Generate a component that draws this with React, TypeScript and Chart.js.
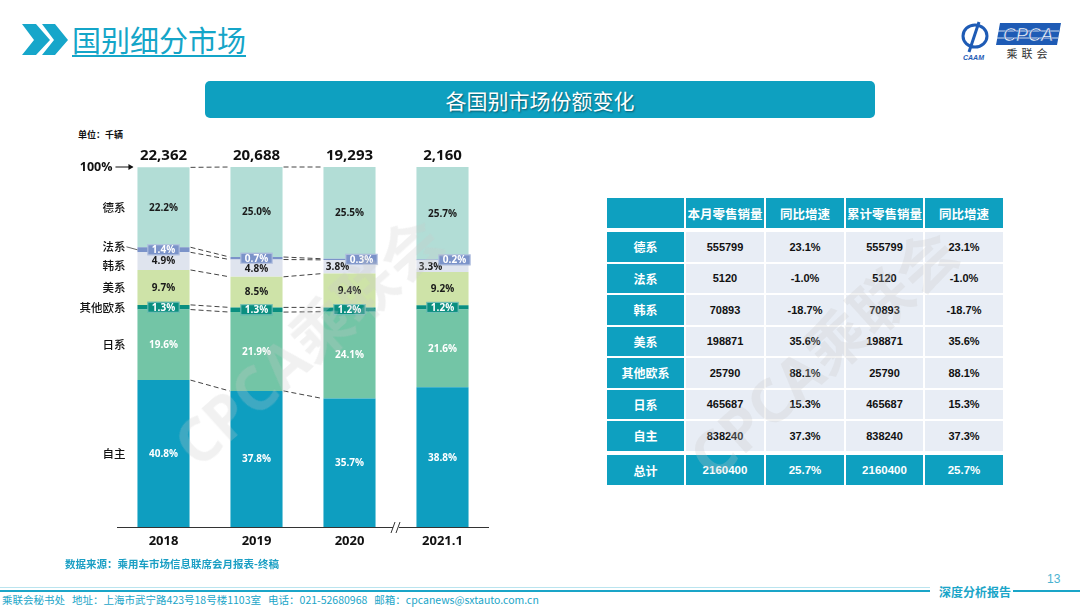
import React, { useEffect, useRef } from 'react';
import { Chart, registerables } from 'chart.js';

Chart.register(...registerables);

// ---------- chart data ----------
const categories = ['2018', '2019', '2020', '2021.1'];
const totals = ['22,362', '20,688', '19,293', '2,160'];
const seriesNames = ['自主', '日系', '其他欧系', '美系', '韩系', '法系', '德系'];
const ziZhu = [40.8, 37.8, 35.7, 38.8];
const riXi = [19.6, 21.9, 24.1, 21.6];
const qiTaOuXi = [1.3, 1.3, 1.2, 1.2];
const meiXi = [9.7, 8.5, 9.4, 9.2];
const hanXi = [4.9, 4.8, 3.8, 3.3];
const faXi = [1.4, 0.7, 0.3, 0.2];
const deXi = [22.2, 25.0, 25.5, 25.7];
const seriesValues = [ziZhu, riXi, qiTaOuXi, meiXi, hanXi, faXi, deXi];

// ---------- table data ----------
const tableHeaders = ['', '本月零售销量', '同比增速', '累计零售销量', '同比增速'];
const tableRowNames = ['德系', '法系', '韩系', '美系', '其他欧系', '日系', '自主'];
const monthSales = ['555799', '5120', '70893', '198871', '25790', '465687', '838240'];
const monthYoY = ['23.1%', '-1.0%', '-18.7%', '35.6%', '88.1%', '15.3%', '37.3%'];
const cumSales = ['555799', '5120', '70893', '198871', '25790', '465687', '838240'];
const cumYoY = ['23.1%', '-1.0%', '-18.7%', '35.6%', '88.1%', '15.3%', '37.3%'];
const totalRow = ['总计', '2160400', '25.7%', '2160400', '25.7%'];

// ---------- styles ----------
const seriesColors = ['#0E9EC0', '#73C5A6', '#0A8F80', '#CEE3A8', '#DFE4EE', '#7B93C9', '#B2DDD6'];
const labelColors = ['#FFFFFF', '#FFFFFF', '#FFFFFF', '#1A1A1A', '#1A1A1A', '#FFFFFF', '#1A1A1A'];
const boxedSeries = [false, false, true, false, false, true, false];
const TEAL = '#0EA0C0';
const CJK = "'Noto Sans CJK SC', 'Noto Sans', sans-serif";
const NUM = "'Open Sans', 'Noto Sans CJK SC', sans-serif";

const overlayPlugin = {
  id: 'overlay',
  afterDatasetsDraw(chart: any) {
    const ctx = chart.ctx as CanvasRenderingContext2D;
    const area = chart.chartArea;
    const xs = chart.scales.x;
    const nCat = categories.length;
    const nSer = seriesValues.length;
    const el = (d: number, i: number) =>
      chart.getDatasetMeta(d).data[i].getProps(['x', 'y', 'base', 'width'], true);

    ctx.save();

    // dashed connectors between consecutive bars (not across the axis break)
    ctx.strokeStyle = '#444';
    ctx.lineWidth = 1;
    ctx.setLineDash([5, 3]);
    for (let i = 0; i < 2; i++) {
      for (let d = 0; d < nSer; d++) {
        const a = el(d, i);
        const b = el(d, i + 1);
        ctx.beginPath();
        ctx.moveTo(a.x + a.width / 2 + 1, a.y);
        ctx.lineTo(b.x - b.width / 2 - 1, b.y);
        ctx.stroke();
      }
    }
    ctx.setLineDash([]);

    // axis line
    ctx.strokeStyle = '#333';
    ctx.lineWidth = 1.2;
    ctx.beginPath();
    ctx.moveTo(area.left, area.bottom + 0.5);
    ctx.lineTo(area.right, area.bottom + 0.5);
    ctx.stroke();

    // axis break between 2020 and 2021.1
    const bx = (xs.getPixelForValue(2) + xs.getPixelForValue(3)) / 2;
    ctx.fillStyle = '#fff';
    ctx.fillRect(bx - 3, area.bottom - 2, 6, 5);
    ctx.strokeStyle = '#333';
    ctx.lineWidth = 1;
    for (const off of [-3, 2]) {
      ctx.beginPath();
      ctx.moveTo(bx + off - 2, area.bottom + 6);
      ctx.lineTo(bx + off + 2, area.bottom - 5);
      ctx.stroke();
    }

    // category labels
    ctx.fillStyle = '#111';
    ctx.font = `bold 13px ${NUM}`;
    ctx.textAlign = 'center';
    ctx.textBaseline = 'middle';
    for (let i = 0; i < nCat; i++) {
      ctx.fillText(categories[i], xs.getPixelForValue(i), area.bottom + 14);
    }

    // totals
    ctx.font = `bold 15px ${NUM}`;
    for (let i = 0; i < nCat; i++) {
      ctx.fillText(totals[i], xs.getPixelForValue(i), area.top - 11);
    }

    // 100% arrow
    const first = el(0, 0);
    const left0 = first.x - first.width / 2;
    ctx.font = `bold 12.5px ${NUM}`;
    ctx.textAlign = 'right';
    ctx.fillText('100%', left0 - 25, area.top);
    ctx.strokeStyle = '#111';
    ctx.lineWidth = 1;
    ctx.beginPath();
    ctx.moveTo(left0 - 22, area.top);
    ctx.lineTo(left0 - 5, area.top);
    ctx.stroke();
    ctx.beginPath();
    ctx.moveTo(left0 - 4, area.top);
    ctx.lineTo(left0 - 9, area.top - 3);
    ctx.lineTo(left0 - 9, area.top + 3);
    ctx.closePath();
    ctx.fillStyle = '#111';
    ctx.fill();

    // row labels on the left (at the 2018 band centers)
    ctx.font = `500 11.5px ${CJK}`;
    ctx.textAlign = 'right';
    for (let d = 0; d < nSer; d++) {
      const e = el(d, 0);
      let y = (e.y + e.base) / 2;
      if (seriesNames[d] === '法系') y -= 3;
      if (seriesNames[d] === '韩系') y += 4;
      ctx.fillStyle = '#111';
      ctx.fillText(seriesNames[d], left0 - 12, y);
      if (seriesNames[d] === '法系') {
        ctx.strokeStyle = '#666';
        ctx.beginPath();
        ctx.moveTo(left0 - 11, y);
        ctx.lineTo(left0, y + 3);
        ctx.stroke();
      }
    }

    // segment labels
    ctx.textAlign = 'center';
    for (let i = 0; i < nCat; i++) {
      const crowded = faXi[i] < 0.5;
      for (let d = 0; d < nSer; d++) {
        const e = el(d, i);
        const v = seriesValues[d][i];
        const text = v.toFixed(1) + '%';
        let x = e.x;
        let y = (e.y + e.base) / 2;
        if (crowded && seriesNames[d] === '法系') x += 12;
        if (crowded && seriesNames[d] === '韩系') x -= 12;
        ctx.font = `bold 10px ${NUM}`;
        if (boxedSeries[d]) {
          const w = ctx.measureText(text).width + 9;
          const h = 11;
          ctx.fillStyle = seriesColors[d];
          ctx.fillRect(x - w / 2, y - h / 2, w, h);
          ctx.strokeStyle = 'rgba(255,255,255,0.45)';
          ctx.lineWidth = 1;
          ctx.strokeRect(x - w / 2 + 0.5, y - h / 2 + 0.5, w - 1, h - 1);
        }
        ctx.fillStyle = labelColors[d];
        ctx.fillText(text, x, y + 0.5);
      }
    }

    ctx.restore();
  },
};

function StackedChart() {
  const ref = useRef<HTMLCanvasElement | null>(null);
  useEffect(() => {
    if (!ref.current) return;
    const chart = new Chart(ref.current, {
      type: 'bar',
      data: {
        labels: categories,
        datasets: seriesNames.map((name, d) => ({
          label: name,
          data: seriesValues[d],
          backgroundColor: seriesColors[d],
          borderWidth: 0,
          barPercentage: 0.56,
          categoryPercentage: 1,
        })),
      },
      options: {
        responsive: false,
        animation: false,
        devicePixelRatio: 1,
        layout: { padding: { left: 57, right: 11, top: 37, bottom: 33 } },
        scales: {
          x: { stacked: true, display: false, offset: true },
          y: { stacked: true, display: false, min: 0, max: 100 },
        },
        plugins: { legend: { display: false }, tooltip: { enabled: false } },
      },
      plugins: [overlayPlugin],
    } as any);
    return () => chart.destroy();
  }, []);
  return (
    <canvas
      ref={ref}
      width={440}
      height={430}
      style={{ position: 'absolute', left: 60, top: 130, width: 440, height: 430 }}
    />
  );
}

const colX = [607, 686, 766, 846, 925];
const colW = [77, 78, 78, 77, 78];

function DataTable() {
  const cells: any[] = [];
  const cell = (key: string, x: number, y: number, w: number, h: number, text: string, bg: string, color: string, size: number, font: string) =>
    cells.push(
      <div
        key={key}
        style={{
          position: 'absolute', left: x, top: y, width: w, height: h, background: bg, color,
          fontSize: size, fontWeight: 'bold', fontFamily: font, display: 'flex',
          alignItems: 'center', justifyContent: 'center', whiteSpace: 'nowrap',
        }}
      >
        {text}
      </div>
    );
  tableHeaders.forEach((h, c) => cell('h' + c, colX[c], 198, colW[c], 30, h, TEAL, '#fff', 12.5, CJK));
  const rowH = 29.5;
  tableRowNames.forEach((name, r) => {
    const y = 232 + r * (rowH + 2);
    cell('r' + r, colX[0], y, colW[0], rowH, name, TEAL, '#fff', 12, CJK);
    const vals = [monthSales[r], monthYoY[r], cumSales[r], cumYoY[r]];
    vals.forEach((v, c) => cell('c' + r + '_' + c, colX[c + 1], y, colW[c + 1], rowH, v, '#E8EDF5', '#111', 11, "'Liberation Sans', Arial, sans-serif"));
  });
  totalRow.forEach((t, c) => cell('t' + c, colX[c], 455, colW[c], 30, t, TEAL, '#fff', c === 0 ? 12 : 11.5, c === 0 ? CJK : "'Liberation Sans', Arial, sans-serif"));
  return <>{cells}</>;
}

export default function App() {
  useEffect(() => {
    document.body.style.margin = '0';
  }, []);
  return (
    <div style={{ position: 'absolute', left: 0, top: 0, width: 1080, height: 608, background: '#fff', overflow: 'hidden', fontFamily: CJK }}>
      {/* header chevrons */}
      <svg width={80} height={70} style={{ position: 'absolute', left: 0, top: 0 }}>
        <polygon points="22,24 36,24 50,40 36,55 22,55 34,40" fill="#16A6CA" />
        <polygon points="42,24 55,24 68,40 55,55 42,55 54,40" fill="#16A6CA" />
      </svg>
      <div style={{ position: 'absolute', left: 72, top: 20, fontSize: 29, color: '#14A5C8', textDecoration: 'underline', textUnderlineOffset: 3, lineHeight: '38px', fontWeight: 400 }}>
        国别细分市场
      </div>

      {/* logo */}
      <svg width={120} height={70} style={{ position: 'absolute', left: 955, top: 0 }}>
        <ellipse cx={20} cy={36} rx={12} ry={11} fill="none" stroke="#1E5BB5" strokeWidth={3} />
        <path d="M24 22 L14 52" stroke="#1E5BB5" strokeWidth={3} />
        <text x={8} y={60} fontSize={7} fontStyle="italic" fontWeight="bold" fill="#1E5BB5" fontFamily="Arial">CAAM</text>
        <polygon points="45,23 106,23 102,45 41,45" fill="#1E5BB5" />
        <line x1={43} y1={31} x2={104} y2={31} stroke="#fff" strokeWidth={0.8} />
        <line x1={42} y1={38} x2={103} y2={38} stroke="#fff" strokeWidth={0.8} />
        <text x={73} y={41} textAnchor="middle" fontSize={18} fontStyle="italic" fill="#fff" fontFamily="Arial" stroke="#1E5BB5" strokeWidth={0.5}>CPCA</text>
        <text x={74} y={58} textAnchor="middle" fontSize={11} fill="#333" letterSpacing={4} fontFamily={CJK}>乘联会</text>
      </svg>

      {/* title bar */}
      <div style={{ position: 'absolute', left: 205, top: 81, width: 670, height: 37, background: TEAL, borderRadius: 5, color: '#fff', fontSize: 21, display: 'flex', alignItems: 'center', justifyContent: 'center', textShadow: '1px 1px 2px rgba(0,0,0,0.45)' }}>
        各国别市场份额变化
      </div>

      <div style={{ position: 'absolute', left: 78, top: 128, fontSize: 9, fontWeight: 'bold', color: '#111' }}>单位：千辆</div>

      <StackedChart />
      <DataTable />

      {/* watermarks */}
      <div style={{ position: 'absolute', left: 140, top: 300, width: 320, textAlign: 'center', transform: 'rotate(-42deg)', fontSize: 60, fontWeight: 'bold', color: 'rgba(200,200,200,0.26)', fontFamily: NUM, pointerEvents: 'none', whiteSpace: 'nowrap' }}>
        CPCA乘联会
      </div>
      <div style={{ position: 'absolute', left: 655, top: 312, width: 320, textAlign: 'center', transform: 'rotate(-42deg)', fontSize: 60, fontWeight: 'bold', color: 'rgba(200,200,200,0.26)', fontFamily: NUM, pointerEvents: 'none', whiteSpace: 'nowrap' }}>
        CPCA乘联会
      </div>

      {/* footer */}
      <div style={{ position: 'absolute', left: 65, top: 556, fontSize: 10.5, fontWeight: 'bold', color: '#1B9FC4' }}>
        数据来源：乘用车市场信息联席会月报表-终稿
      </div>
      <div style={{ position: 'absolute', left: 0, top: 590, width: 930, height: 2, background: '#1AA5C8' }} />
      <div style={{ position: 'absolute', left: 0, top: 587, width: 930, height: 1, background: 'rgba(26,165,200,0.3)' }} />
      <div style={{ position: 'absolute', left: 939, top: 583, fontSize: 12, fontWeight: 'bold', color: '#1AA5C8', fontFamily: "'Noto Sans CJK SC'", letterSpacing: 0 }}>深度分析报告</div>
      <div style={{ position: 'absolute', left: 1013, top: 590, width: 67, height: 2, background: '#1AA5C8' }} />
      <div style={{ position: 'absolute', left: 1047, top: 572, fontSize: 12, color: '#4AB3D1', fontFamily: "'Liberation Sans', Arial" }}>13</div>
      <div style={{ position: 'absolute', left: 2, top: 593, fontSize: 10.5, color: '#1AA5C8', whiteSpace: 'pre', lineHeight: '14px' }}>
        {'乘联会秘书处   地址：上海市武宁路423号18号楼1103室   电话：021-52680968   邮箱：cpcanews@sxtauto.com.cn'}
      </div>
    </div>
  );
}
